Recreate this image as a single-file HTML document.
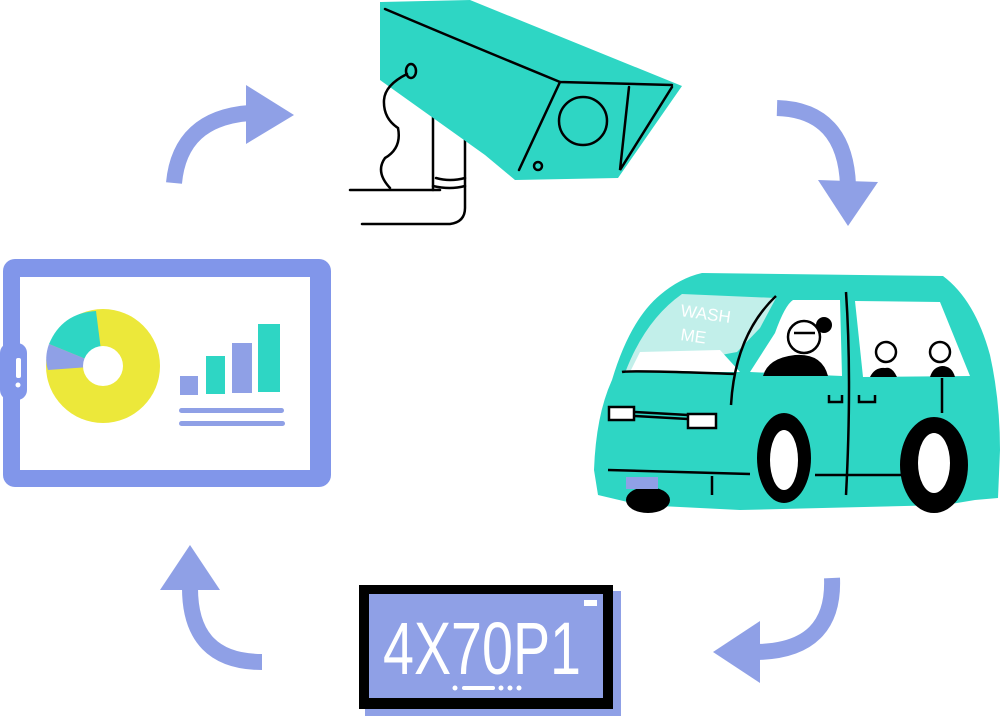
<!DOCTYPE html>
<html><head><meta charset="utf-8"><style>
html,body{margin:0;padding:0;background:#fff;width:1000px;height:716px;overflow:hidden}
svg{display:block}
</style></head><body>
<svg width="1000" height="716" viewBox="0 0 1000 716" xmlns="http://www.w3.org/2000/svg">
<!-- arrows -->
<g fill="none" stroke="#8fa0e6" stroke-width="16">
<path d="M174,183 Q180,118 250,113"/>
<path d="M777,108 Q845,110 848,185"/>
<path d="M832,578 Q835,650 758,652"/>
<path d="M262,662 Q190,662 190,588"/>
</g>
<g fill="#8fa0e6">
<polygon points="246,85 294,115 246,144"/>
<polygon points="818,180 848,226 878,182"/>
<polygon points="760,621 713,652 760,683"/>
<polygon points="160,590 190,545 220,590"/>
</g>
<!-- camera -->
<g stroke="#000" stroke-width="2.5" fill="none" stroke-linecap="round">
<path d="M350,190 L440,190"/>
<path d="M433,112 L433,190 M465,128 L465,208 Q465,222 450,224 L362,224"/>
<path d="M436,178 Q450,182 465,178"/>
<path d="M433,186 Q450,190 465,186"/>
</g>
<path d="M380,2 L470,0 L682,86 L618,178 L515,180 L485,155 L380,80 Z" fill="#2ed6c4"/>
<g stroke="#000" stroke-width="2.5" fill="none" stroke-linecap="round">
<path d="M385,9 Q470,45 560,82 L672,85"/>
<path d="M560,82 L519,170"/>
<path d="M629,87 L620,170 L672,87"/>
<circle cx="583" cy="121" r="24"/>
<circle cx="538" cy="166" r="4"/>
<ellipse cx="411" cy="71" rx="5" ry="7"/>
<path d="M407,74 Q385,85 384,100 Q383,118 398,128 Q402,148 385,158 Q375,172 390,188"/>
</g>
<!-- car -->
<path d="M702,273 L943,276 Q975,300 990,355 Q1000,400 1000,450 L998,498 L975,500 L945,505 L740,510 L640,505 L598,495 L594,470 Q596,415 612,380 Q630,320 660,295 Q680,278 702,273 Z" fill="#2ed6c4"/>
<path d="M682,294 L776,298 L760,328 L737,352 L625,373 Q645,320 682,294 Z" fill="#c2efea"/>
<path d="M640,352 L720,350 L740,372 L630,372 Z" fill="#fff"/>
<path d="M750,372 L775,333 Q785,305 793,300 L840,300 L842,376 Z" fill="#fff"/>
<path d="M855,301 L940,302 L970,376 L863,377 Z" fill="#fff"/>
<g fill="#000">
<path d="M763,376 Q768,358 795,355 Q822,353 828,376 Z"/>
<circle cx="824" cy="325" r="8"/>
<path d="M870,377 Q875,367 885,368 Q892,366 897,377 Z"/>
<path d="M930,377 Q933,367 942,366 Q952,366 955,377 Z"/>
<ellipse cx="784" cy="458" rx="27" ry="45"/>
<ellipse cx="934" cy="465" rx="34" ry="48"/>
<ellipse cx="648" cy="500" rx="22" ry="13"/>
</g>
<ellipse cx="784" cy="460" rx="14" ry="30" fill="#fff"/>
<ellipse cx="934" cy="463" rx="16" ry="30" fill="#fff"/>
<g fill="#fff" stroke="#000" stroke-width="2.5">
<circle cx="804" cy="337" r="16"/>
<circle cx="886" cy="352" r="10"/>
<circle cx="940" cy="352" r="10"/>
<rect x="609" y="407" width="25" height="13"/>
<rect x="688" y="414" width="28" height="14"/>
</g>
<g stroke="#000" stroke-width="2.5" fill="none">
<path d="M736,374 Q630,370 622,372"/>
<path d="M776,296 Q735,335 731,405"/>
<path d="M846,292 Q852,380 846,495"/>
<path d="M608,470 L750,474 M815,475 L905,475"/>
<path d="M712,476 L712,495"/>
<path d="M829,395 L829,402 L842,402 L842,395 M859,395 L859,402 L875,402 L875,395"/>
<path d="M942,378 L942,413"/>
<path d="M634,412 L688,415 M634,416 L688,419"/>
<path d="M794,333 L815,333"/>
</g>
<rect x="626" y="477" width="32" height="12" fill="#8fa0e6"/>
<text x="680" y="316" font-family="Liberation Sans, sans-serif" font-size="17" fill="#fff" transform="rotate(8 680 316)">WASH</text>
<text x="680" y="340" font-family="Liberation Sans, sans-serif" font-size="17" fill="#fff" transform="rotate(8 680 340)">ME</text>
<!-- tablet -->
<rect x="3" y="259" width="328" height="228" rx="12" fill="#8196ea"/>
<rect x="20" y="277" width="290" height="193" fill="#fff"/>
<rect x="0" y="343" width="27" height="57" rx="10" fill="#8196ea"/>
<rect x="16" y="358" width="5" height="20" rx="2" fill="#fff"/>
<circle cx="18" cy="385" r="2.5" fill="#fff"/>
<circle cx="103" cy="366" r="57" fill="#ece83a"/>
<path d="M103,366 L96,311 Q62,313 49,344 Z" fill="#2ed6c4"/>
<path d="M103,366 L49,344 Q44,358 48,370 Z" fill="#8fa0e6"/>
<circle cx="103" cy="366" r="20" fill="#fff"/>
<rect x="180" y="376" width="18" height="19" fill="#8fa0e6"/>
<rect x="206" y="356" width="19" height="38" fill="#2ed6c4"/>
<rect x="232" y="343" width="20" height="50" fill="#8fa0e6"/>
<rect x="258" y="324" width="22" height="68" fill="#2ed6c4"/>
<rect x="179" y="408" width="105" height="5" rx="2.5" fill="#8fa0e6"/>
<rect x="179" y="421" width="106" height="5" rx="2.5" fill="#8fa0e6"/>
<!-- plate -->
<rect x="365" y="591" width="256" height="125" fill="#8fa0e6"/>
<rect x="359" y="585" width="254" height="124" fill="#000"/>
<rect x="369" y="594" width="234" height="104" fill="#8fa0e6"/>
<rect x="584" y="600" width="13" height="6" fill="#fff"/>
<text x="383" y="674" font-family="Liberation Sans, sans-serif" font-size="74" fill="#fff" textLength="198" lengthAdjust="spacingAndGlyphs">4X70P1</text>
<g fill="#fff"><circle cx="455" cy="688" r="2.5"/><rect x="462" y="686" width="33" height="4" rx="2"/><circle cx="501" cy="688" r="2.5"/><circle cx="510" cy="688" r="2.5"/><circle cx="519" cy="688" r="2.5"/></g>
</svg>
</body></html>
